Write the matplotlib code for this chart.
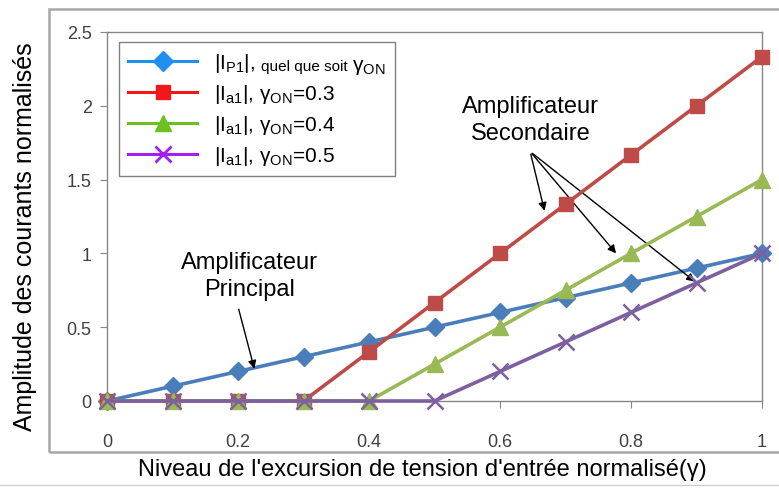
import matplotlib
matplotlib.use('Agg')
import matplotlib.pyplot as plt
import matplotlib.patches as patches
from matplotlib.lines import Line2D
import numpy as np

plt.rcParams['font.family'] = ['Liberation Sans', 'DejaVu Sans']

# donnees
gamma = [0, 0.1, 0.2, 0.3, 0.4, 0.5, 0.6, 0.7, 0.8, 0.9, 1.0]
i_p1 = [0, 0.1, 0.2, 0.3, 0.4, 0.5, 0.6, 0.7, 0.8, 0.9, 1.0]
i_a1_03 = [0, 0, 0, 0, 0.333, 0.667, 1.0, 1.333, 1.667, 2.0, 2.333]
i_a1_04 = [0, 0, 0, 0, 0, 0.25, 0.5, 0.75, 1.0, 1.25, 1.5]
i_a1_05 = [0, 0, 0, 0, 0, 0, 0.2, 0.4, 0.6, 0.8, 1.0]

x_ticks = [0, 0.2, 0.4, 0.6, 0.8, 1]
x_ticklabels = ['0', '0.2', '0.4', '0.6', '0.8', '1']
y_ticks = [0, 0.5, 1, 1.5, 2, 2.5]
y_ticklabels = ['0', '0.5', '1', '1.5', '2', '2.5']

fig = plt.figure(figsize=(7.79, 4.89), dpi=100)
ax = fig.add_axes([107 / 779, 1 - 402 / 489, 655 / 779, 369 / 489])

# cadre exterieur du graphique
fig.patches.append(patches.Rectangle((49 / 779, 1 - 453 / 489), 1.0, 443 / 489,
                                     transform=fig.transFigure, fill=False,
                                     edgecolor='#a6a6a6', linewidth=1.8))
fig.lines.append(Line2D([0, 1], [1 - 486 / 489] * 2, transform=fig.transFigure,
                        color='#d0d0d0', linewidth=1.0))

lw = 2.6
ax.plot(gamma, i_p1, color='#4a7ebb', lw=lw, marker='D', ms=9, clip_on=False, zorder=3)
ax.plot(gamma, i_a1_03, color='#be4b48', lw=lw, marker='s', ms=10, clip_on=False, zorder=4)
ax.plot(gamma, i_a1_04, color='#98b954', lw=lw, marker='^', ms=11, clip_on=False, zorder=5)
ax.plot(gamma, i_a1_05, color='#7d60a0', lw=lw, marker='x', ms=11, mew=1.8, clip_on=False, zorder=6)

ax.set_xlim(0, 1)
ax.set_ylim(0, 2.5)
tick_font = ['Liberation Sans Narrow', 'Liberation Sans', 'DejaVu Sans']
ax.set_xticks(x_ticks)
ax.set_xticklabels(x_ticklabels, family=tick_font, fontsize=13, color='#404040')
ax.set_yticks(y_ticks)
ax.set_yticklabels(y_ticklabels, family=tick_font, fontsize=13, color='#404040')
ax.tick_params(axis='x', length=5, pad=18, color='#868686')
ax.tick_params(axis='y', length=5, pad=6, color='#868686')
for s in ax.spines.values():
    s.set_color('#868686')
    s.set_linewidth(1.0)

fig.text(25 / 779, 1 - 237 / 489, 'Amplitude des courants normalisés', rotation=90,
         ha='center', va='center', fontsize=18)
fig.text(422 / 779, 1 - 470 / 489, "Niveau de l'excursion de tension d'entrée normalisé(γ)",
         ha='center', va='center', fontsize=17)

# legende (cadre dessine a part pour inclure le texte ajoute)
handles = [
    Line2D([], [], color='#2090f0', lw=2.2, marker='D', ms=10),
    Line2D([], [], color='#f01818', lw=2.2, marker='s', ms=10),
    Line2D([], [], color='#6cc020', lw=2.2, marker='^', ms=11),
    Line2D([], [], color='#a020f0', lw=2.2, marker='x', ms=12, mew=2),
]
labels = [
    r'|I$_{\mathregular{P1}}$|,',
    r'|I$_{\mathregular{a1}}$|, γ$_{\mathregular{ON}}$=0.3',
    r'|I$_{\mathregular{a1}}$|, γ$_{\mathregular{ON}}$=0.4',
    r'|I$_{\mathregular{a1}}$|, γ$_{\mathregular{ON}}$=0.5',
]
leg = ax.legend(handles, labels, loc='upper left', bbox_to_anchor=(0.018, 0.973),
                fontsize=15, frameon=False,
                handlelength=3.3, handletextpad=0.8, labelspacing=0.38,
                borderpad=0.45, borderaxespad=0)
leg.set_zorder(10)

fig.canvas.draw()
r = fig.canvas.get_renderer()
inv = ax.transAxes.inverted()
bb = leg.get_texts()[0].get_window_extent(r)
base = inv.transform((bb.x1 + 6, bb.y0 + 4))
t1 = ax.text(base[0], base[1], 'quel que soit ', transform=ax.transAxes,
             fontsize=11, ha='left', va='baseline', zorder=11)
fig.canvas.draw()
bb2 = t1.get_window_extent(r)
p2 = inv.transform((bb2.x1, bb.y0 + 4))
t2 = ax.text(p2[0], p2[1], r'γ$_{\mathregular{ON}}$', transform=ax.transAxes,
             fontsize=15, ha='left', va='baseline', zorder=11)
fig.canvas.draw()
bb3 = t2.get_window_extent(r)
lb = leg.get_window_extent(r)
c0 = inv.transform((lb.x0, lb.y0))
c1 = inv.transform((max(lb.x1, bb3.x1 + 10), lb.y1))
ax.add_patch(patches.Rectangle(c0, c1[0] - c0[0], c1[1] - c0[1], transform=ax.transAxes,
                               facecolor='white', edgecolor='#808080', linewidth=1.0,
                               clip_on=False, zorder=9))

# annotations
arrow = dict(arrowstyle='-|>', color='black', lw=1.0, mutation_scale=12)
ax.text(0.218, 0.85, 'Amplificateur\nPrincipal', ha='center', va='center',
        fontsize=17, linespacing=1.3)
ax.annotate('', xy=(0.226, 0.2), xytext=(0.2, 0.64), arrowprops=arrow)

ax.text(0.647, 1.905, 'Amplificateur\nSecondaire', ha='center', va='center',
        fontsize=17, linespacing=1.3)
for end in [(0.669, 1.27), (0.78, 0.986), (0.901, 0.797)]:
    ax.annotate('', xy=end, xytext=(0.646, 1.69), arrowprops=arrow)

fig.savefig('out.png', dpi=100)
